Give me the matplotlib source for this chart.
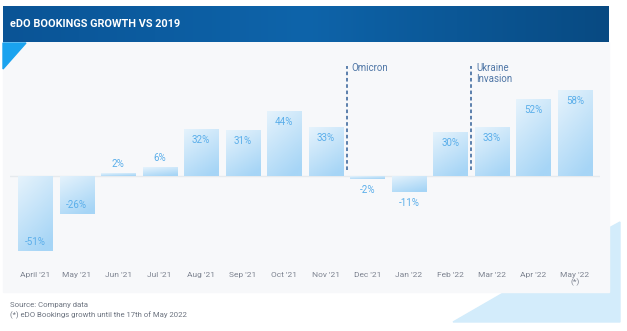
import numpy as np
import matplotlib.pyplot as plt
from matplotlib.patches import Polygon, Rectangle

plt.rcParams['font.family'] = ['Roboto', 'DejaVu Sans']

# Data
months = ["April '21", "May '21", "Jun '21", "Jul '21", "Aug '21", "Sep '21", "Oct '21",
          "Nov '21", "Dec '21", "Jan '22", "Feb '22", "Mar '22", "Apr '22", "May '22"]
growth = [-51, -26, 2, 6, 32, 31, 44, 33, -2, -11, 30, 33, 52, 58]
events = ["Omicron", "Ukraine\nInvasion"]
event_pos = [7.5, 10.5]  # between Nov/Dec and Feb/Mar

W, H = 627, 331
fig = plt.figure(figsize=(W / 100, H / 100), dpi=100)
fig.patch.set_facecolor("white")

# background canvas in pixel coords
bg = fig.add_axes([0, 0, 1, 1])
bg.set_xlim(0, W)
bg.set_ylim(H, 0)
bg.axis("off")

# light blue shapes at bottom right
bg.add_patch(Polygon([[505, 292], [609, 292], [609, 228], [620, 222], [620, 322], [453, 322]],
                     closed=True, color="#d3ecfb", zorder=0))
# light panel
bg.add_patch(Rectangle((3, 42), 606, 250, color="#f7f8fa", zorder=0))
# banner with gradient
grad = np.linspace(0, 1, 256)
bcol = np.array([[10, 84, 150], [14, 100, 170], [8, 74, 130]]) / 255.0
t = np.interp(grad, [0, 0.5, 1], [0, 1, 2])
rows = np.array([np.interp(t, [0, 1, 2], bcol[:, c]) for c in range(3)]).T
bg.imshow(rows[np.newaxis, :, :], extent=(3, 609, 42, 6), aspect="auto", zorder=1)
bg.set_xlim(0, W)
bg.set_ylim(H, 0)
bg.text(10, 24, "eDO BOOKINGS GROWTH VS 2019", color="white", fontsize=7.8,
        fontweight="bold", va="center", ha="left", zorder=2)
# blue triangle
bg.add_patch(Polygon([[3, 43], [26, 43], [3, 69]], closed=True, color="#1aa3ef", zorder=2))

# footnotes
bg.text(10, 305, "Source: Company data", fontsize=5.6, color="#6d7480", va="center")
bg.text(10, 315, "(*) eDO Bookings growth until the 17th of May 2022", fontsize=5.6,
        color="#6d7480", va="center")

# chart axes
ax = fig.add_axes([10 / W, 1 - 262 / H, 590 / W, 202 / H])
ax.patch.set_alpha(0)
x = np.arange(len(months))
bars = ax.bar(x, growth, width=0.82, color="none", edgecolor="none", zorder=2)

# gradient fill for bars
gy, gx = np.mgrid[0:1:64j, 0:1:32j]
tt = np.clip(0.75 * gy + 0.35 * gx, 0, 1)
c_top = np.array([230, 243, 252]) / 255.0
c_bot = np.array([166, 213, 246]) / 255.0
gimg = c_top + (c_bot - c_top) * tt[..., None]
for b in bars:
    x0, y0 = b.get_x(), b.get_y()
    x1, y1 = x0 + b.get_width(), y0 + b.get_height()
    ylo, yhi = min(y0, y1), max(y0, y1)
    im = ax.imshow(gimg, extent=(x0, x1, ylo, yhi), origin="upper", aspect="auto", zorder=2)
    im.set_clip_path(b)

ax.axhline(0, color="#e6eaee", lw=1, zorder=1)

xmin = (10 - 35) / 41.54
xmax = (600 - 35) / 41.54
ax.set_xlim(xmin, xmax)
ax.set_ylim(-(262 - 176) / 1.48, (176 - 60) / 1.48)

# value labels
lab_col = "#5aaeea"
for xi, v in zip(x, growth):
    if v >= 20:
        ax.text(xi, v - 4, f"{v}%", ha="center", va="top", fontsize=7, color=lab_col, zorder=3)
    elif v >= 0:
        ax.text(xi, v + 3, f"{v}%", ha="center", va="bottom", fontsize=7, color=lab_col, zorder=3)
    elif v <= -20:
        ax.text(xi, v + 3, f"{v}%", ha="center", va="bottom", fontsize=7, color=lab_col, zorder=3)
    else:
        ax.text(xi, v - 4, f"{v}%", ha="center", va="top", fontsize=7, color=lab_col, zorder=3)

# event lines
for ev, xp in zip(events, event_pos):
    ax.plot([xp, xp], [4, 74], color="#4f76a6", lw=1.3, ls=(0, (2, 1.5)), zorder=3)
    ax.text(xp + 0.12, 76.5, ev, ha="left", va="top", fontsize=7, color="#4f76a6",
            linespacing=1.1, zorder=3)

ax.set_xticks(x)
ax.set_xticklabels([m if i < len(months) - 1 else m + "\n(*)" for i, m in enumerate(months)],
                   fontsize=6, color="#7d8390", linespacing=1.1)
ax.tick_params(axis="x", length=0, pad=7)
ax.set_yticks([])
for s in ax.spines.values():
    s.set_visible(False)

fig.savefig("out.png", dpi=100)
